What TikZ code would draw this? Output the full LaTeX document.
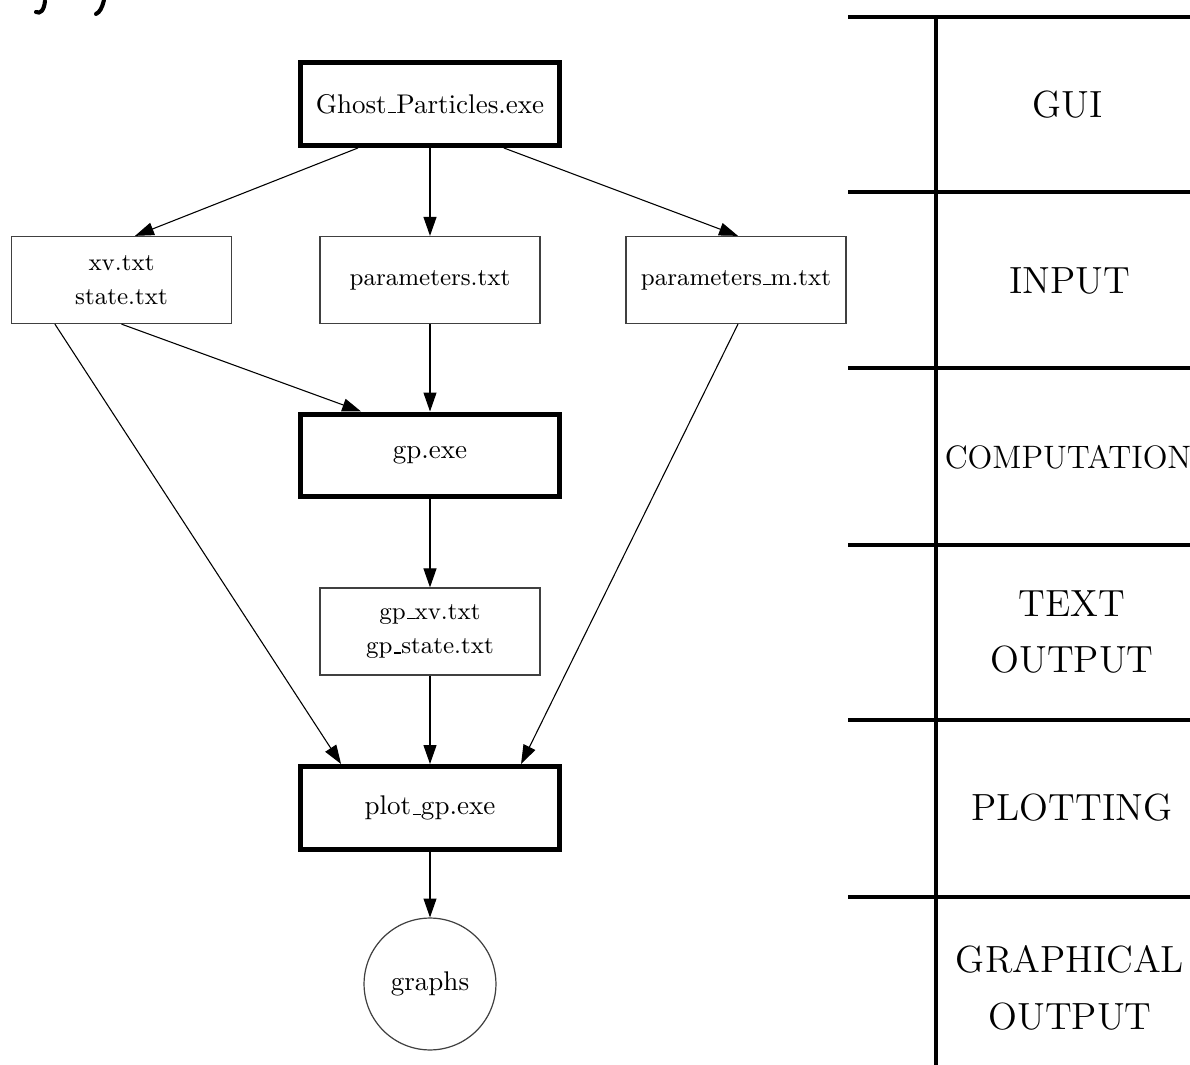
\documentclass[tikz,border=0pt]{standalone}
\usetikzlibrary{arrows.meta,calc}
\newcommand{\lowbar}{\leavevmode\kern.06em\vbox{\hrule width.3em height .4pt}}
\begin{document}
\begin{tikzpicture}[x=0.37pt,y=-0.37pt,
  thickbox/.style={draw, line width=1.85pt, rectangle, minimum width=95.8pt, minimum height=30.7pt, inner sep=0pt, outer sep=auto, font=\fontsize{10}{12}\selectfont},
  thinbox/.style={draw=black!75, line width=0.45pt, rectangle, minimum width=81.4pt, minimum height=32.2pt, inner sep=0pt, align=center, font=\fontsize{9}{12.6}\selectfont},
  roundnode/.style={draw=black!75, circle, line width=0.45pt, minimum size=48.8pt, inner sep=0pt, font=\fontsize{10}{12}\selectfont},
  arr/.style={-{Triangle[length=7pt,width=4.8pt]}, line width=0.4pt},
  tablerule/.style={line width=1.3pt},
  lane/.style={align=center, inner sep=0pt, font=\fontsize{14}{21}\selectfont},
  smalllane/.style={align=center, inner sep=0pt, font=\fontsize{12}{15}\selectfont},
  cutglyph/.style={line width=1.5pt, line cap=round}
]
\clip (0,0) rectangle (1190,1065);

% cut-off glyph tails at the top edge
\draw[cutglyph] (36,12) .. controls (40,14) and (44,11) .. (45,1);
\draw[cutglyph] (96,14) .. controls (100,12) and (102,8) .. (104,0);

% flow nodes
\node[thickbox] (ghost) at (430,104) {Ghost\lowbar Particles.exe};
\node[thinbox] (xv) at (121.5,280) {xv.txt\\state.txt};
\node[thinbox] (par) at (430,280) {parameters.txt};
\node[thinbox] (parm) at (736,280) {parameters\lowbar m.txt};
\node[thickbox] (gp) at (430,455.5) {gp.exe};
\node[thinbox] (gpxv) at (430,631.5) {gp\lowbar xv.txt\\gp\lowbar state.txt};
\node[thickbox] (plot) at (430,808) {plot\lowbar gp.exe};
\node[roundnode] (graphs) at (430,984) {graphs};

% connectors
\draw[arr] ($(ghost.south west)!0.227!(ghost.south east)$) -- ($(xv.north west)!0.561!(xv.north east)$);
\draw[arr] (ghost.south) -- (par.north);
\draw[arr] ($(ghost.south west)!0.78!(ghost.south east)$) -- ($(parm.north west)!0.509!(parm.north east)$);
\draw[arr] (xv.south) -- ($(gp.north west)!0.239!(gp.north east)$);
\draw[arr] (par.south) -- (gp.north);
\draw[arr] (gp.south) -- (gpxv.north);
\draw[arr] ($(xv.south west)!0.199!(xv.south east)$) -- ($(plot.north west)!0.163!(plot.north east)$);
\draw[arr] (gpxv.south) -- (plot.north);
\draw[arr] ($(parm.south west)!0.509!(parm.south east)$) -- ($(plot.north west)!0.845!(plot.north east)$);
\draw[arr] (plot.south) -- (graphs.north);

% lane table
\draw[tablerule] (848,17) -- (1200,17);
\draw[tablerule] (848,192) -- (1200,192);
\draw[tablerule] (848,368) -- (1200,368);
\draw[tablerule] (848,545) -- (1200,545);
\draw[tablerule] (848,720) -- (1200,720);
\draw[tablerule] (848,897) -- (1200,897);
\draw[tablerule] (936,17) -- (936,1075);

\node[lane] (lgui) at (1068,104.5) {GUI};
\node[lane] (linput) at (1070,281) {INPUT};
\node[smalllane] (lcomp) at (1068,457) {COMPUTATION};
\node[lane] (ltext) at (1072,632) {TEXT\\OUTPUT};
\node[lane] (lplot) at (1072,808) {PLOTTING};
\node[lane] (lgraph) at (1070,988) {GRAPHICAL\\OUTPUT};
\end{tikzpicture}
\end{document}
